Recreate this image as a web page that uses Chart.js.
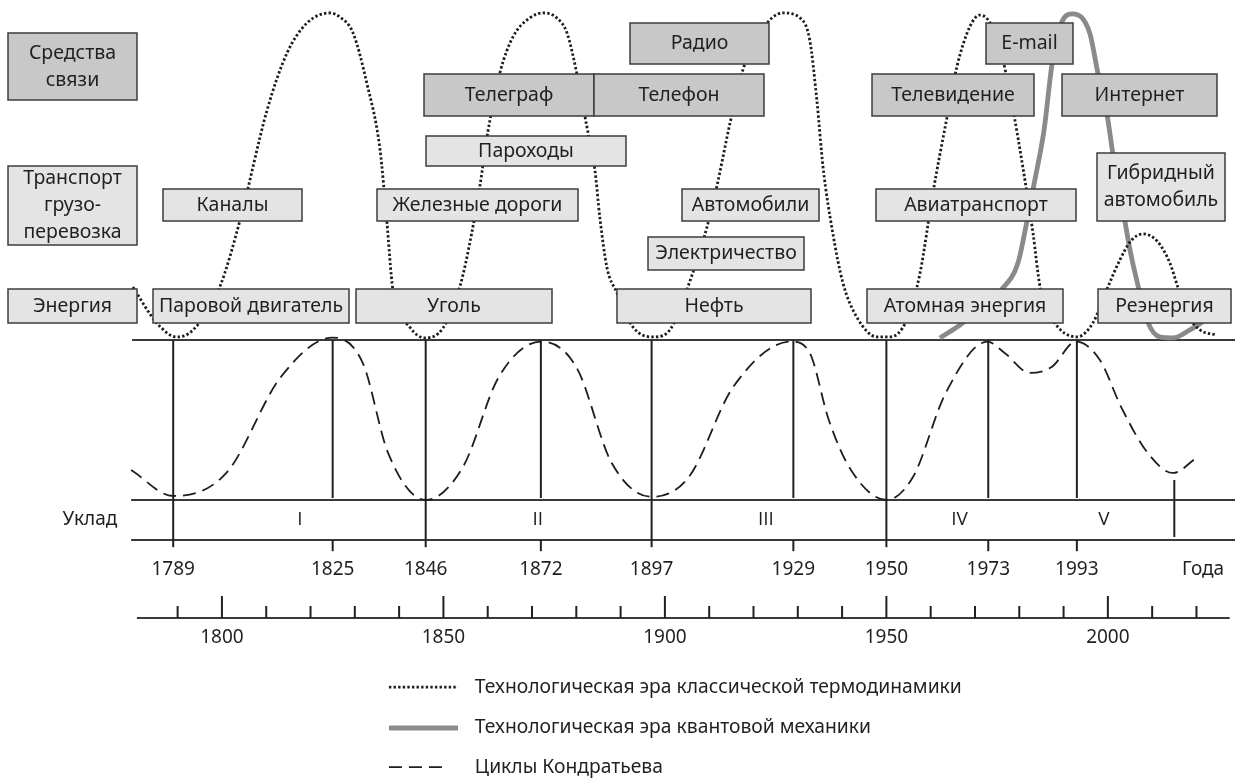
<!DOCTYPE html>
<html>
<head>
<meta charset="utf-8">
<script src="https://cdn.jsdelivr.net/npm/chart.js@4.4.1/dist/chart.umd.min.js"></script>
<style>
  html, body { margin: 0; padding: 0; background: #fff; }
  canvas { display: block; }
</style>
</head>
<body>
<canvas id="chart" width="1235" height="778"></canvas>
<script>
// ---- data (years on x, level on y: 0 = cycle low, 1 = cycle high) ----
const thermoYears = [1779.9, 1785.3, 1789.8, 1793.5, 1799.5, 1804.1, 1810.2, 1814.7, 1819.2, 1824.4,
  1826.6, 1829.6, 1832.7, 1835.7, 1837.2, 1838.6, 1842.4, 1845.8, 1849.9, 1853.7,
  1856.4, 1858.2, 1860.0, 1862.8, 1865.7, 1869.5, 1872.5, 1875.6, 1877.9, 1880.1,
  1882.4, 1884.2, 1885.3, 1886.9, 1889.2, 1892.8, 1897.3, 1900.5, 1906.3, 1909.5,
  1911.7, 1914.7, 1917.6, 1921.4, 1926.6, 1930.5, 1932.7, 1934.3, 1935.7, 1937.9,
  1940.2, 1943.3, 1947.9, 1950.8, 1954.6, 1957.6, 1960.5, 1963.7, 1965.9, 1968.8,
  1971.1, 1973.4, 1976.3, 1978.6, 1980.8, 1983.1, 1984.7, 1987.6, 1993.0, 1996.6,
  2000.0, 2002.7, 2005.2, 2007.9, 2011.1, 2014.0, 2015.8, 2018.5, 2020.8, 2024.6];
const thermoLevels = [1.331, 1.106, 1.019, 1.063, 1.331, 1.75, 2.438, 2.794, 2.981, 3.044,
  3.019, 2.919, 2.606, 2.188, 1.75, 1.313, 1.081, 1.013, 1.075, 1.331,
  1.669, 1.956, 2.294, 2.675, 2.894, 3.013, 3.044, 3.013, 2.919, 2.669,
  2.331, 2.063, 1.769, 1.456, 1.294, 1.081, 1.019, 1.044, 1.419, 1.706,
  1.956, 2.356, 2.688, 2.919, 3.044, 3.013, 2.875, 2.5, 2.081, 1.669,
  1.356, 1.144, 1.019, 1.019, 1.125, 1.419, 1.919, 2.394, 2.706, 2.956,
  3.031, 2.981, 2.75, 2.438, 2.081, 1.669, 1.331, 1.125, 1.019, 1.106,
  1.331, 1.5, 1.619, 1.663, 1.619, 1.481, 1.331, 1.138, 1.063, 1.031];

const quantumYears = [1962.1, 1966.6, 1971.6, 1976.1, 1979.7, 1981.7, 1983.3, 1985.6, 1987.4, 1989.6,
  1992.1, 1995.9, 1997.7, 1999.9, 2001.1, 2003.8, 2005.0, 2006.5, 2009.0, 2011.7,
  2014.7, 2018.5, 2021.4];
const quantumLevels = [1.013, 1.094, 1.206, 1.319, 1.481, 1.738, 1.969, 2.313, 2.725, 2.988,
  3.038, 2.919, 2.675, 2.394, 2.169, 1.75, 1.563, 1.375, 1.113, 1.019,
  1.013, 1.063, 1.113];

const kondYears = [1779.5, 1789, 1801, 1813.3, 1825, 1831.8, 1837.5, 1846, 1854.4, 1862.5,
  1872, 1880, 1888, 1897, 1905.4, 1915.4, 1928.5, 1932.7, 1937, 1942,
  1950, 1956, 1963.4, 1972.8, 1976.7, 1982.4, 1987.3, 1992.8, 1998.2, 2003,
  2009, 2014.7, 2020];
const kondLevels = [0.188, 0.025, 0.169, 0.769, 1.015, 0.856, 0.294, 0.0, 0.206, 0.769,
  0.99, 0.831, 0.231, 0.02, 0.144, 0.706, 0.99, 0.919, 0.5, 0.188,
  0.0, 0.144, 0.669, 0.99, 0.919, 0.794, 0.831, 0.99, 0.875, 0.581,
  0.294, 0.169, 0.263];

const cycleYears = [1789, 1825, 1846, 1872, 1897, 1929, 1950, 1973, 1993];
const cyclePhase = ['low', 'high', 'low', 'high', 'low', 'high', 'low', 'high', 'high'];
const cycleEndYear = 2015;
const ukladNames = ['I', 'II', 'III', 'IV', 'V'];
const ukladCenters = [1817.6, 1871.3, 1922.8, 1966.5, 1999.1];
const axisYears = [1800, 1850, 1900, 1950, 2000];

const categoryNames = ['Средства\nсвязи', 'Транспорт\nгрузо-\nперевозка', 'Энергия'];
const categoryRow = ['commSide', 'transSide', 'energy'];

const techNames = ['Каналы', 'Паровой двигатель', 'Железные дороги', 'Уголь', 'Телеграф', 'Телефон',
  'Радио', 'Пароходы', 'Автомобили', 'Электричество', 'Нефть', 'Телевидение', 'E-mail', 'Интернет',
  'Авиатранспорт', 'Гибридный\nавтомобиль', 'Атомная энергия', 'Реэнергия'];
const techFrom = [1786.7, 1784.4, 1835.0, 1830.2, 1845.6, 1884.0, 1892.1, 1846.0, 1903.8, 1896.2,
  1889.2, 1946.7, 1972.5, 1989.6, 1947.6, 1997.5, 1945.6, 1997.7];
const techTo = [1818.1, 1828.7, 1880.4, 1874.5, 1884.0, 1922.3, 1923.5, 1891.2, 1934.8, 1931.4,
  1933.0, 1983.3, 1992.1, 2024.6, 1992.8, 2026.4, 1989.8, 2027.8];
const techRow = ['trans', 'energy', 'trans', 'energy', 'comm', 'comm', 'commTop', 'ships', 'trans', 'elec',
  'energy', 'comm', 'commTop', 'comm', 'trans', 'hybrid', 'energy', 'energy'];

const legendNames = ['Технологическая эра классической термодинамики',
  'Технологическая эра квантовой механики', 'Циклы Кондратьева'];

// ---- layout ----
const X_MIN = 1749.9, X_MAX = 2028.7;
const Y_MIN = -1.7375, Y_MAX = 3.125;
const FONT = '"Noto Sans", sans-serif';
const INK = '#231f20';
const DARK = '#c8c8c8', LIGHT = '#e4e4e4';
const ROWS = {
  commTop: [2.981, 2.725, DARK],
  comm: [2.663, 2.4, DARK],
  ships: [2.275, 2.088, LIGHT],
  hybrid: [2.169, 1.744, LIGHT],
  trans: [1.944, 1.744, LIGHT],
  elec: [1.644, 1.438, LIGHT],
  energy: [1.319, 1.106, LIGHT],
  commSide: [2.919, 2.5, DARK],
  transSide: [2.088, 1.594, LIGHT]
};
const SIDE_FROM = 1751.7, SIDE_TO = 1780.8;

function points(xs, ys) {
  return xs.map((v, i) => ({ x: v, y: ys[i] }));
}

const diagram = {
  id: 'diagram',
  beforeDatasetsDraw(chart) {
    const { ctx, scales: { x, y } } = chart;
    const X = v => x.getPixelForValue(v);
    const Y = v => y.getPixelForValue(v);
    const seg = (x0, y0, x1, y1) => {
      ctx.beginPath();
      ctx.moveTo(X(x0), Y(y0));
      ctx.lineTo(X(x1), Y(y1));
      ctx.stroke();
    };
    ctx.save();
    ctx.strokeStyle = '#3a3a3a';
    ctx.lineWidth = 2;
    seg(1779.7, 1, X_MAX, 1);
    seg(1779.5, 0, X_MAX, 0);
    seg(1779.5, -0.25, X_MAX, -0.25);
    seg(1780.8, -0.7375, 2027.5, -0.7375);

    ctx.strokeStyle = INK;
    cycleYears.forEach((yr, i) => {
      if (cyclePhase[i] === 'low') {
        seg(yr, 1, yr, -0.295);
      } else {
        seg(yr, 1, yr, 0.0125);
        seg(yr, -0.25, yr, -0.32);
      }
    });
    seg(cycleEndYear, 0.125, cycleEndYear, -0.231);

    // bottom time axis ticks
    for (let yr = 1790; yr <= 2020; yr += 10) {
      const major = yr % 50 === 0;
      seg(yr, -0.7375, yr, major ? -0.6 : -0.6625);
    }

    ctx.fillStyle = INK;
    ctx.textAlign = 'center';
    ctx.textBaseline = 'middle';
    ctx.font = '19px ' + FONT;
    ctx.fillText('Уклад', X(1770.2), Y(-0.125));
    cycleYears.forEach(yr => ctx.fillText(String(yr), X(yr), Y(-0.4375)));
    ctx.fillText('Года', X(2021.5), Y(-0.4375));
    axisYears.forEach(yr => ctx.fillText(String(yr), X(yr), Y(-0.8625)));
    ctx.font = '19px "Open Sans", sans-serif';
    ukladNames.forEach((n, i) => ctx.fillText(n, X(ukladCenters[i]), Y(-0.125)));
    ctx.restore();
  },
  afterDatasetsDraw(chart) {
    const { ctx, scales: { x, y } } = chart;
    const X = v => x.getPixelForValue(v);
    const Y = v => y.getPixelForValue(v);
    ctx.save();
    const box = (label, from, to, row) => {
      const [top, bottom, fill] = ROWS[row];
      const x0 = Math.round(X(from)), x1 = Math.round(X(to));
      const y0 = Math.round(Y(top)), y1 = Math.round(Y(bottom));
      ctx.fillStyle = fill;
      ctx.fillRect(x0, y0, x1 - x0, y1 - y0);
      ctx.strokeStyle = '#3c3c3c';
      ctx.lineWidth = 1.5;
      ctx.strokeRect(x0, y0, x1 - x0, y1 - y0);
      ctx.fillStyle = INK;
      ctx.font = '19.5px ' + FONT;
      ctx.textAlign = 'center';
      ctx.textBaseline = 'middle';
      const lines = label.split('\n');
      const lh = 27;
      const cy = (y0 + y1) / 2 - (lines.length - 1) * lh / 2;
      lines.forEach((l, i) => ctx.fillText(l, (x0 + x1) / 2, cy + i * lh));
    };
    categoryNames.forEach((n, i) => box(n, SIDE_FROM, SIDE_TO, categoryRow[i]));
    techNames.forEach((n, i) => box(n, techFrom[i], techTo[i], techRow[i]));

    // legend
    const rows = [-1.169, -1.425, -1.669];
    chart.data.datasets.forEach((ds, i) => {
      const yy = Y(rows[i]);
      ctx.beginPath();
      ctx.strokeStyle = ds.borderColor;
      ctx.lineWidth = ds.borderWidth;
      ctx.setLineDash(ds.borderDash || []);
      ctx.lineCap = 'butt';
      ctx.moveTo(X(1837.7), yy);
      ctx.lineTo(X(i === 2 ? 1851.0 : 1853.3), yy);
      ctx.stroke();
      ctx.setLineDash([]);
      ctx.fillStyle = INK;
      ctx.font = '19.3px ' + FONT;
      ctx.textAlign = 'left';
      ctx.textBaseline = 'middle';
      ctx.fillText(legendNames[i], X(1857.1), yy);
    });
    ctx.restore();
  }
};

new Chart(document.getElementById('chart'), {
  type: 'line',
  data: {
    datasets: [
      {
        label: legendNames[0],
        data: points(thermoYears, thermoLevels),
        borderColor: '#1e1e1e',
        borderWidth: 2.8,
        borderDash: [2.4, 2.2],
        cubicInterpolationMode: 'monotone',
        pointRadius: 0,
        fill: false
      },
      {
        label: legendNames[1],
        data: points(quantumYears, quantumLevels),
        borderColor: '#8a8a8a',
        borderWidth: 4.8,
        cubicInterpolationMode: 'monotone',
        pointRadius: 0,
        fill: false
      },
      {
        label: legendNames[2],
        data: points(kondYears, kondLevels),
        borderColor: '#1e1e1e',
        borderWidth: 1.8,
        borderDash: [13, 7],
        cubicInterpolationMode: 'monotone',
        pointRadius: 0,
        fill: false
      }
    ]
  },
  options: {
    responsive: false,
    animation: false,
    devicePixelRatio: 1,
    layout: { padding: 0 },
    plugins: { legend: { display: false }, tooltip: { enabled: false } },
    scales: {
      x: { type: 'linear', min: X_MIN, max: X_MAX, display: false },
      y: { type: 'linear', min: Y_MIN, max: Y_MAX, display: false }
    }
  },
  plugins: [diagram]
});
</script>
</body>
</html>
